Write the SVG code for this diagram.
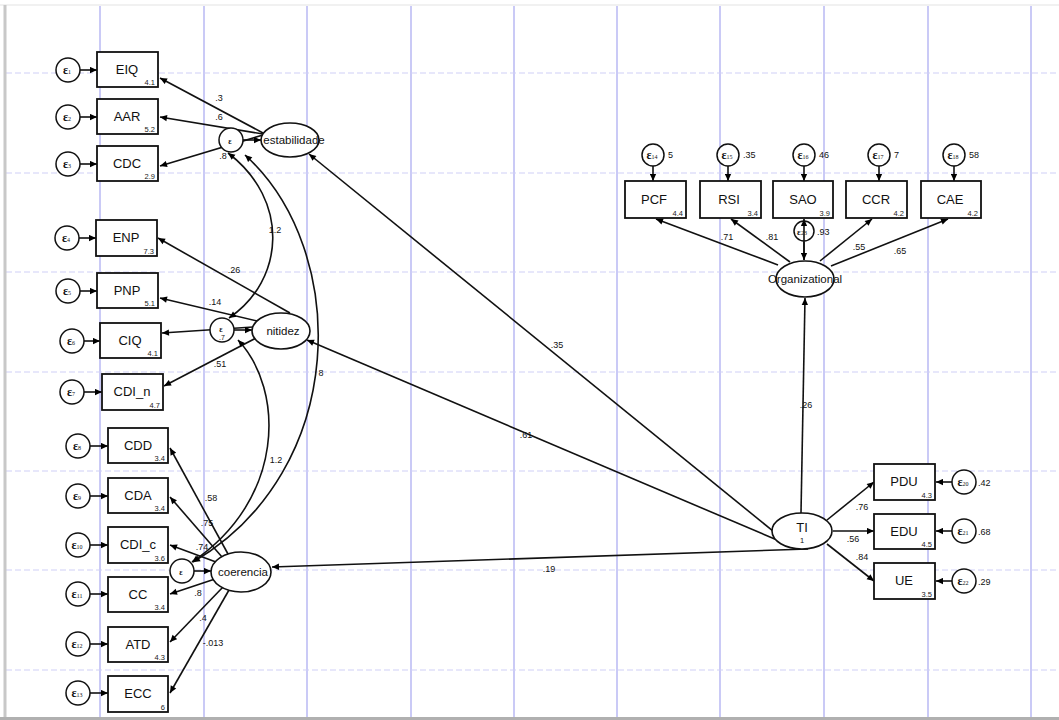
<svg xmlns="http://www.w3.org/2000/svg" width="1059" height="720" viewBox="0 0 1059 720">
<defs>
<marker id="ah" viewBox="0 0 10 10" refX="10" refY="5" markerWidth="8" markerHeight="7" markerUnits="userSpaceOnUse" orient="auto-start-reverse"><path d="M0,0.5 L10,5 L0,9.5 z" fill="#000"/></marker>
</defs>
<style>
.grid-v{stroke:#b4b4f2;stroke-width:1.4}
.grid-h{stroke:#cfcff6;stroke-width:1;stroke-dasharray:6 3}
.box{fill:#fff;stroke:#111;stroke-width:1.8}
.lat{fill:#fff;stroke:#111;stroke-width:1.6}
.err{fill:#fff;stroke:#111;stroke-width:1.5}
.lbl{font-family:"Liberation Sans",Arial,sans-serif;font-size:13px;fill:#111;text-anchor:middle}
.latl{font-family:"Liberation Sans",Arial,sans-serif;font-size:11.5px;fill:#111;text-anchor:middle}
.num{font-family:"Liberation Sans",Arial,sans-serif;font-size:7.5px;fill:#222;text-anchor:end}
.eps{font-family:"Liberation Serif",serif;font-size:12px;font-weight:bold;fill:#111;text-anchor:middle}
.sub{font-size:6px;font-weight:normal}
.coef{font-family:"Liberation Sans",Arial,sans-serif;font-size:9px;fill:#111;text-anchor:middle}
.var{font-family:"Liberation Sans",Arial,sans-serif;font-size:9px;fill:#111;text-anchor:start}
.ln{stroke:#111;stroke-width:1.6;fill:none;marker-end:url(#ah)}
.cv{stroke:#111;stroke-width:1.6;fill:none;marker-end:url(#ah);marker-start:url(#ah)}
</style>
<rect x="0" y="0" width="1059" height="720" fill="#fff"/>
<g id="grid">
<line class="grid-v" x1="100" y1="6" x2="100" y2="717"/>
<line class="grid-v" x1="204" y1="6" x2="204" y2="717"/>
<line class="grid-v" x1="307" y1="6" x2="307" y2="717"/>
<line class="grid-v" x1="411" y1="6" x2="411" y2="717"/>
<line class="grid-v" x1="514" y1="6" x2="514" y2="717"/>
<line class="grid-v" x1="617" y1="6" x2="617" y2="717"/>
<line class="grid-v" x1="720" y1="6" x2="720" y2="717"/>
<line class="grid-v" x1="824" y1="6" x2="824" y2="717"/>
<line class="grid-v" x1="928" y1="6" x2="928" y2="717"/>
<line class="grid-v" x1="1031" y1="6" x2="1031" y2="717"/>
<line class="grid-h" x1="6" y1="73" x2="1059" y2="73"/>
<line class="grid-h" x1="6" y1="173" x2="1059" y2="173"/>
<line class="grid-h" x1="6" y1="272" x2="1059" y2="272"/>
<line class="grid-h" x1="6" y1="372" x2="1059" y2="372"/>
<line class="grid-h" x1="6" y1="471" x2="1059" y2="471"/>
<line class="grid-h" x1="6" y1="570" x2="1059" y2="570"/>
<line class="grid-h" x1="6" y1="670" x2="1059" y2="670"/>
<line x1="0" y1="5" x2="1059" y2="5" stroke="#ececec" stroke-width="1.5"/>
<line x1="5" y1="5" x2="5" y2="719" stroke="#c8c8c8" stroke-width="3"/>
<line x1="0" y1="718.5" x2="1059" y2="718.5" stroke="#b0b0b0" stroke-width="3"/>
</g>

<g id="connectors">
<line class="ln" x1="80" y1="70" x2="97" y2="70"/>
<line class="ln" x1="80" y1="117" x2="97" y2="117"/>
<line class="ln" x1="80" y1="164" x2="97" y2="164"/>
<line class="ln" x1="79" y1="238" x2="96" y2="238"/>
<line class="ln" x1="80" y1="291" x2="97" y2="291"/>
<line class="ln" x1="84" y1="341" x2="100" y2="341"/>
<line class="ln" x1="84" y1="392" x2="102" y2="392"/>
<line class="ln" x1="90" y1="446" x2="108" y2="446"/>
<line class="ln" x1="90" y1="496" x2="108" y2="496"/>
<line class="ln" x1="90" y1="545" x2="108" y2="545"/>
<line class="ln" x1="90" y1="594" x2="108" y2="594"/>
<line class="ln" x1="90" y1="644" x2="108" y2="644"/>
<line class="ln" x1="90" y1="693" x2="108" y2="693"/>
<line class="ln" x1="263" y1="133" x2="160" y2="78"/>
<line class="ln" x1="263" y1="134" x2="160" y2="117"/>
<line class="ln" x1="263" y1="135" x2="160" y2="166"/>
<line class="ln" x1="290" y1="313" x2="158" y2="238"/>
<line class="ln" x1="257" y1="321" x2="160" y2="298"/>
<line class="ln" x1="253" y1="327" x2="162" y2="333"/>
<line class="ln" x1="256" y1="338" x2="164" y2="386"/>
<line class="ln" x1="228" y1="554" x2="170" y2="448"/>
<line class="ln" x1="222" y1="557" x2="170" y2="497"/>
<line class="ln" x1="216" y1="562" x2="170" y2="545"/>
<line class="ln" x1="215" y1="579" x2="170" y2="594"/>
<line class="ln" x1="223" y1="587" x2="170" y2="642"/>
<line class="ln" x1="229" y1="590" x2="170" y2="693"/>
<line class="ln" x1="243" y1="140" x2="261" y2="140"/>
<line class="ln" x1="234" y1="330" x2="252" y2="330"/>
<line class="ln" x1="194" y1="571" x2="211" y2="571"/>
<path class="cv" d="M228 153 C290 200 285 280 229 318"/>
<path class="cv" d="M245 155 C350 250 350 470 193 562"/>
<path class="cv" d="M238 340 C285 390 285 500 192 562"/>
<line class="ln" x1="784" y1="540" x2="309" y2="154"/>
<line class="ln" x1="784" y1="543" x2="307" y2="340"/>
<line class="ln" x1="808" y1="549" x2="272" y2="567"/>
<line class="ln" x1="801" y1="513" x2="805" y2="298"/>
<line class="ln" x1="827" y1="520" x2="874" y2="482"/>
<line class="ln" x1="833" y1="531" x2="874" y2="531"/>
<line class="ln" x1="827" y1="544" x2="874" y2="581"/>
<line class="ln" x1="952" y1="482" x2="936" y2="482"/>
<line class="ln" x1="952" y1="531" x2="936" y2="531"/>
<line class="ln" x1="952" y1="581" x2="936" y2="581"/>
<line class="ln" x1="778" y1="265" x2="656" y2="219"/>
<line class="ln" x1="790" y1="262" x2="731" y2="219"/>
<line class="ln" x1="804" y1="260" x2="804" y2="219"/>
<line class="ln" x1="820" y1="261" x2="872" y2="219"/>
<line class="ln" x1="831" y1="266" x2="948" y2="219"/>
<line class="ln" x1="653" y1="166" x2="653" y2="181"/>
<line class="ln" x1="728" y1="166" x2="728" y2="181"/>
<line class="ln" x1="804" y1="166" x2="804" y2="181"/>
<line class="ln" x1="879" y1="166" x2="879" y2="181"/>
<line class="ln" x1="954" y1="166" x2="954" y2="181"/>
<line class="ln" x1="804" y1="242" x2="804" y2="260"/>
</g>

<g id="coefficients">
<text class="coef" x="219" y="101">.3</text>
<text class="coef" x="219" y="120">.6</text>
<text class="coef" x="223" y="159">.8</text>
<text class="coef" x="275" y="233">1.2</text>
<text class="coef" x="234" y="273">.26</text>
<text class="coef" x="215" y="305">.14</text>
<text class="coef" x="220" y="367">.51</text>
<text class="coef" x="321" y="376">8</text>
<text class="coef" x="276" y="463">1.2</text>
<text class="coef" x="211" y="501">.58</text>
<text class="coef" x="207" y="526">.75</text>
<text class="coef" x="202" y="550">.74</text>
<text class="coef" x="198" y="596">.8</text>
<text class="coef" x="203" y="621">.4</text>
<text class="coef" x="213" y="646">-.013</text>
<text class="coef" x="557" y="348">.35</text>
<text class="coef" x="526" y="438">.61</text>
<text class="coef" x="549" y="572">.19</text>
<text class="coef" x="806" y="408">.26</text>
<text class="coef" x="727" y="240">.71</text>
<text class="coef" x="772" y="240">.81</text>
<text class="coef" x="859" y="250">.55</text>
<text class="coef" x="900" y="254">.65</text>
<text class="coef" x="862" y="510">.76</text>
<text class="coef" x="853" y="542">.56</text>
<text class="coef" x="862" y="560">.84</text>
</g>

<g id="EIQ"><rect class="box" x="97" y="52" width="61" height="35"/><text class="lbl" x="127" y="74">EIQ</text><text class="num" x="155" y="85">4.1</text></g>
<g id="AAR"><rect class="box" x="97" y="99" width="61" height="35"/><text class="lbl" x="127" y="121">AAR</text><text class="num" x="155" y="132">5.2</text></g>
<g id="CDC"><rect class="box" x="97" y="146" width="61" height="35"/><text class="lbl" x="127" y="168">CDC</text><text class="num" x="155" y="179">2.9</text></g>
<g id="e1"><circle class="err" cx="68" cy="70" r="12"/><text class="eps" x="67" y="74">ε<tspan class="sub">1</tspan></text></g>
<g id="e2"><circle class="err" cx="68" cy="117" r="12"/><text class="eps" x="67" y="121">ε<tspan class="sub">2</tspan></text></g>
<g id="e3"><circle class="err" cx="68" cy="164" r="12"/><text class="eps" x="67" y="168">ε<tspan class="sub">3</tspan></text></g>

<g id="ENP"><rect class="box" x="96" y="220" width="61" height="36"/><text class="lbl" x="126" y="242">ENP</text><text class="num" x="154" y="254">7.3</text></g>
<g id="PNP"><rect class="box" x="97" y="273" width="61" height="35"/><text class="lbl" x="127" y="295">PNP</text><text class="num" x="155" y="306">5.1</text></g>
<g id="CIQ"><rect class="box" x="100" y="323" width="61" height="35"/><text class="lbl" x="130" y="345">CIQ</text><text class="num" x="158" y="356">4.1</text></g>
<g id="CDI_n"><rect class="box" x="102" y="374" width="61" height="36"/><text class="lbl" x="132" y="396">CDI_n</text><text class="num" x="160" y="408">4.7</text></g>
<g id="e4"><circle class="err" cx="67" cy="238" r="12"/><text class="eps" x="66" y="242">ε<tspan class="sub">4</tspan></text></g>
<g id="e5"><circle class="err" cx="68" cy="291" r="12"/><text class="eps" x="67" y="295">ε<tspan class="sub">5</tspan></text></g>
<g id="e6"><circle class="err" cx="72" cy="341" r="12"/><text class="eps" x="71" y="345">ε<tspan class="sub">6</tspan></text></g>
<g id="e7"><circle class="err" cx="72" cy="392" r="12"/><text class="eps" x="71" y="396">ε<tspan class="sub">7</tspan></text></g>

<g id="CDD"><rect class="box" x="108" y="428" width="60" height="35"/><text class="lbl" x="138" y="450">CDD</text><text class="num" x="165" y="461">3.4</text></g>
<g id="CDA"><rect class="box" x="108" y="478" width="60" height="35"/><text class="lbl" x="138" y="500">CDA</text><text class="num" x="165" y="511">3.4</text></g>
<g id="CDI_c"><rect class="box" x="108" y="527" width="60" height="36"/><text class="lbl" x="138" y="549">CDI_c</text><text class="num" x="165" y="561">3.6</text></g>
<g id="CC"><rect class="box" x="108" y="577" width="60" height="35"/><text class="lbl" x="138" y="599">CC</text><text class="num" x="165" y="610">3.4</text></g>
<g id="ATD"><rect class="box" x="108" y="627" width="60" height="35"/><text class="lbl" x="138" y="649">ATD</text><text class="num" x="165" y="660">4.3</text></g>
<g id="ECC"><rect class="box" x="108" y="676" width="60" height="36"/><text class="lbl" x="138" y="698">ECC</text><text class="num" x="165" y="710">6</text></g>
<g id="e8"><circle class="err" cx="78" cy="446" r="12"/><text class="eps" x="77" y="450">ε<tspan class="sub">8</tspan></text></g>
<g id="e9"><circle class="err" cx="78" cy="496" r="12"/><text class="eps" x="77" y="500">ε<tspan class="sub">9</tspan></text></g>
<g id="e10"><circle class="err" cx="78" cy="545" r="12"/><text class="eps" x="77" y="549">ε<tspan class="sub">10</tspan></text></g>
<g id="e11"><circle class="err" cx="78" cy="594" r="12"/><text class="eps" x="77" y="598">ε<tspan class="sub">11</tspan></text></g>
<g id="e12"><circle class="err" cx="78" cy="644" r="12"/><text class="eps" x="77" y="648">ε<tspan class="sub">12</tspan></text></g>
<g id="e13"><circle class="err" cx="78" cy="693" r="12"/><text class="eps" x="77" y="697">ε<tspan class="sub">13</tspan></text></g>

<g id="e_estab"><circle class="err" cx="231" cy="140" r="12"/><text class="eps" x="230" y="144" style="font-size:8px">ε</text></g>
<g id="estabilidade"><ellipse class="lat" cx="290" cy="140" rx="29" ry="17"/><text class="latl" x="294" y="144">estabilidade</text></g>
<g id="e_nit"><circle class="err" cx="222" cy="330" r="12"/><text class="eps" x="221" y="332" style="font-size:8px">ε</text><text class="coef" x="222" y="340" style="font-size:7px">.7</text></g>
<g id="nitidez"><ellipse class="lat" cx="281" cy="331" rx="29" ry="18"/><text class="latl" x="283" y="335">nitidez</text></g>
<g id="e_coer"><circle class="err" cx="182" cy="571" r="12"/><text class="eps" x="181" y="575" style="font-size:8px">ε</text></g>
<g id="coerencia"><ellipse class="lat" cx="241" cy="572" rx="30" ry="20"/><text class="latl" x="243" y="576">coerencia</text></g>

<g id="PCF"><rect class="box" x="625" y="181" width="61" height="37"/><text class="lbl" x="654" y="204">PCF</text><text class="num" x="683" y="216">4.4</text></g>
<g id="RSI"><rect class="box" x="700" y="181" width="61" height="37"/><text class="lbl" x="729" y="204">RSI</text><text class="num" x="758" y="216">3.4</text></g>
<g id="SAO"><rect class="box" x="773" y="181" width="60" height="37"/><text class="lbl" x="803" y="204">SAO</text><text class="num" x="830" y="216">3.9</text></g>
<g id="CCR"><rect class="box" x="846" y="181" width="61" height="37"/><text class="lbl" x="876" y="204">CCR</text><text class="num" x="904" y="216">4.2</text></g>
<g id="CAE"><rect class="box" x="921" y="181" width="60" height="37"/><text class="lbl" x="950" y="204">CAE</text><text class="num" x="978" y="216">4.2</text></g>
<g id="e14"><circle class="err" cx="653" cy="155" r="11"/><text class="eps" x="652" y="159">ε<tspan class="sub">14</tspan></text><text class="var" x="668" y="158">5</text></g>
<g id="e15"><circle class="err" cx="728" cy="155" r="11"/><text class="eps" x="727" y="159">ε<tspan class="sub">15</tspan></text><text class="var" x="743" y="158">.35</text></g>
<g id="e16"><circle class="err" cx="804" cy="155" r="11"/><text class="eps" x="803" y="159">ε<tspan class="sub">16</tspan></text><text class="var" x="819" y="158">46</text></g>
<g id="e17"><circle class="err" cx="879" cy="155" r="11"/><text class="eps" x="878" y="159">ε<tspan class="sub">17</tspan></text><text class="var" x="894" y="158">7</text></g>
<g id="e18"><circle class="err" cx="954" cy="155" r="11"/><text class="eps" x="953" y="159">ε<tspan class="sub">18</tspan></text><text class="var" x="969" y="158">58</text></g>
<g id="e23"><circle class="err" cx="804" cy="231" r="10" style="fill:none"/><text class="eps" x="802" y="235" style="font-size:9px">ε<tspan class="sub">23</tspan></text><text class="var" x="817" y="235">.93</text></g>
<g id="Organizational"><ellipse class="lat" cx="805" cy="279" rx="29" ry="18"/><text class="latl" x="805" y="283">Organizational</text></g>

<g id="TI"><ellipse class="lat" cx="802" cy="531" rx="30" ry="18"/><text class="lbl" x="802" y="532">TI</text><text class="coef" x="802" y="543" style="font-size:7.5px">1</text></g>
<g id="PDU"><rect class="box" x="874" y="464" width="61" height="36"/><text class="lbl" x="904" y="486">PDU</text><text class="num" x="932" y="498">4.3</text></g>
<g id="EDU"><rect class="box" x="874" y="514" width="61" height="35"/><text class="lbl" x="904" y="536">EDU</text><text class="num" x="932" y="547">4.5</text></g>
<g id="UE"><rect class="box" x="874" y="563" width="61" height="36"/><text class="lbl" x="904" y="585">UE</text><text class="num" x="932" y="597">3.5</text></g>
<g id="e20"><circle class="err" cx="964" cy="482" r="12"/><text class="eps" x="963" y="486">ε<tspan class="sub">20</tspan></text><text class="var" x="978" y="486">.42</text></g>
<g id="e21"><circle class="err" cx="964" cy="531" r="12"/><text class="eps" x="963" y="535">ε<tspan class="sub">21</tspan></text><text class="var" x="978" y="535">.68</text></g>
<g id="e22"><circle class="err" cx="964" cy="581" r="12"/><text class="eps" x="963" y="585">ε<tspan class="sub">22</tspan></text><text class="var" x="978" y="585">.29</text></g>
</svg>
